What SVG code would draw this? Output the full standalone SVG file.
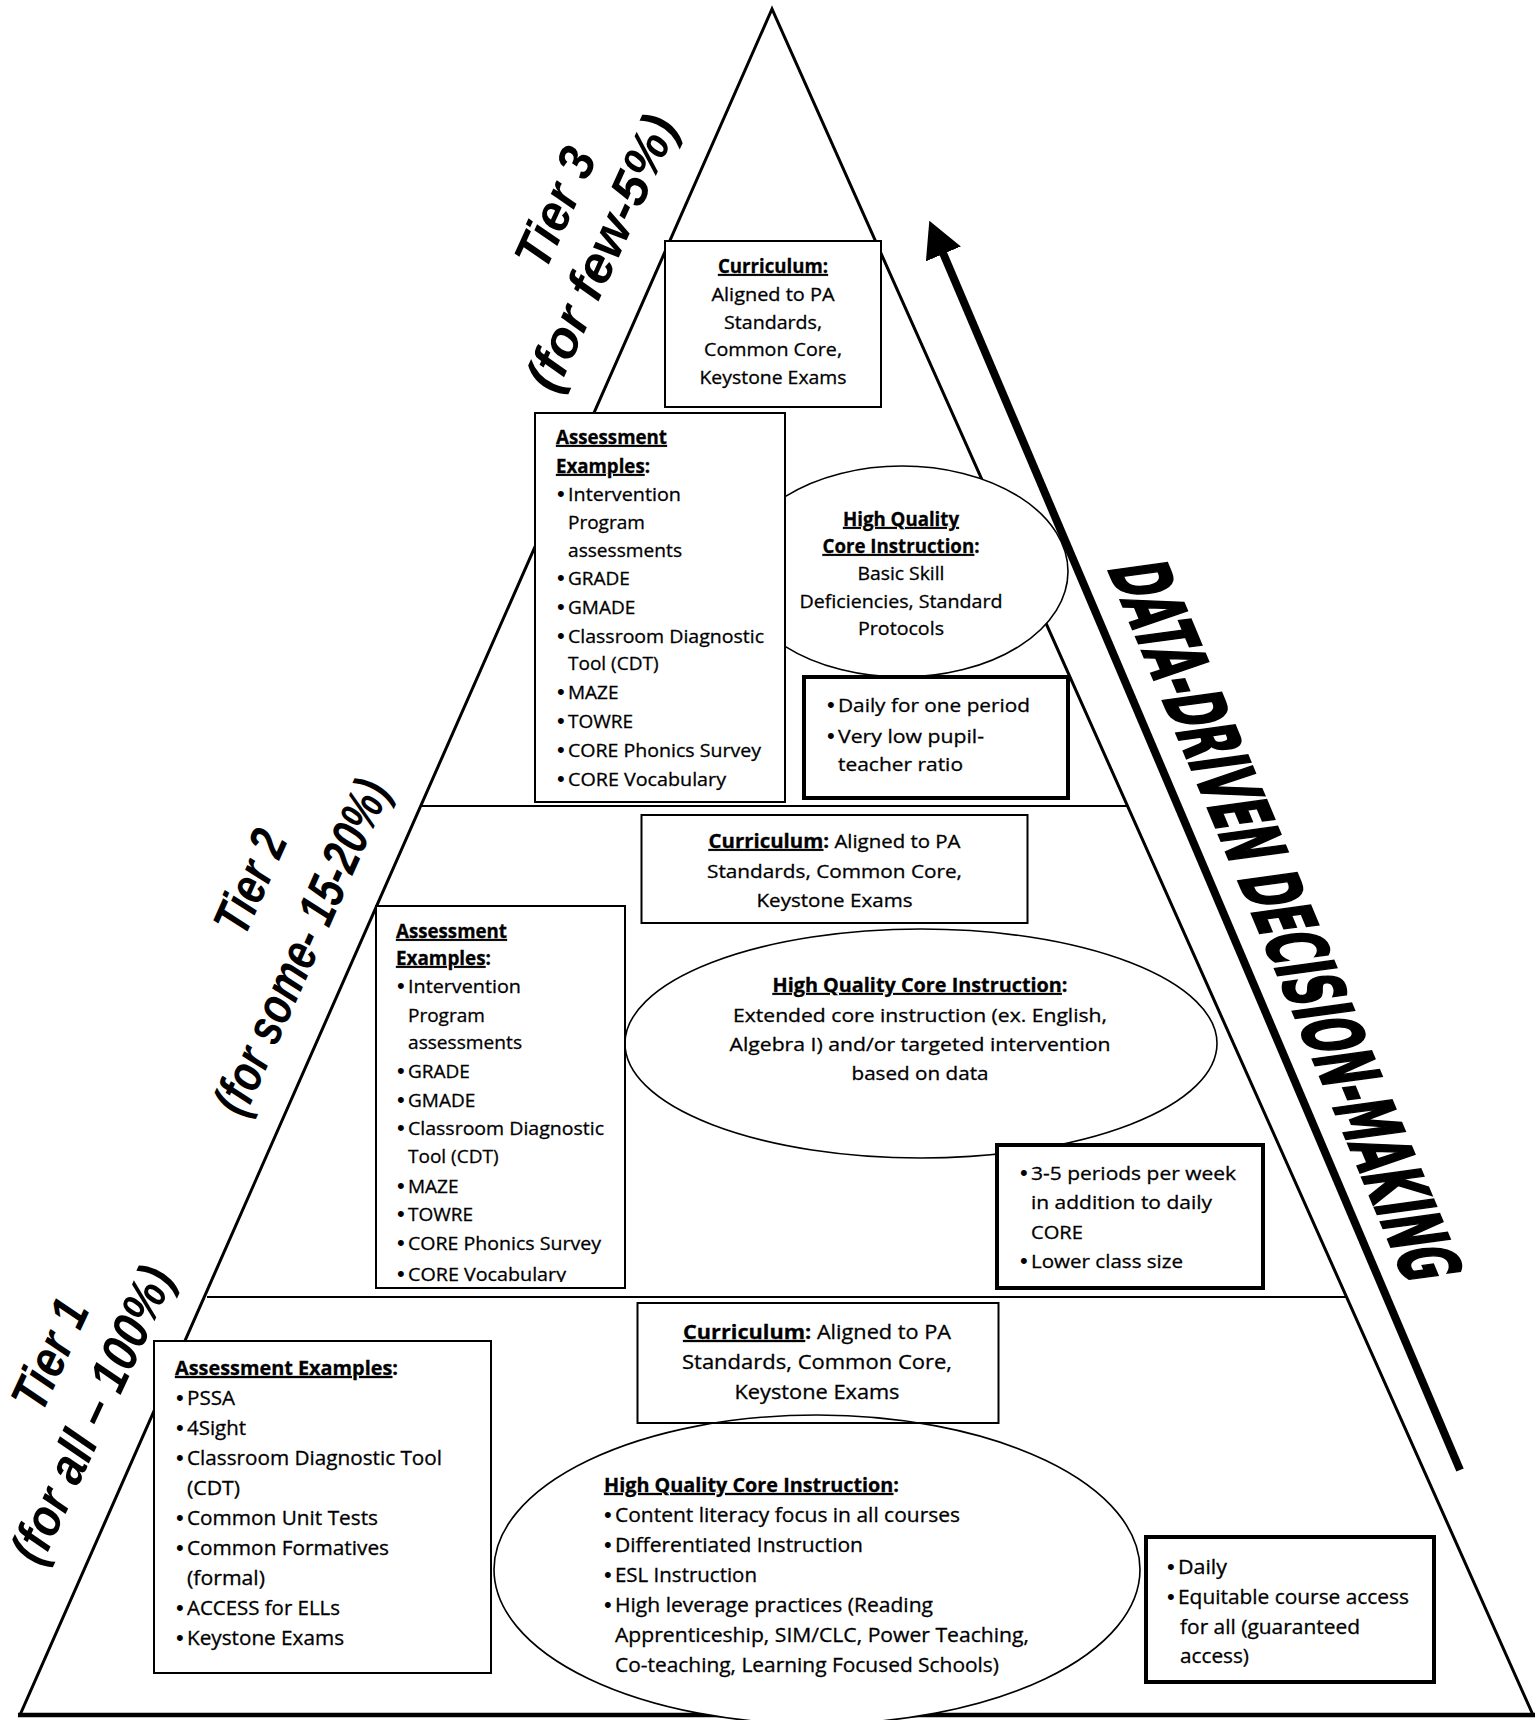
<svg xmlns="http://www.w3.org/2000/svg" width="1539" height="1720" viewBox="0 0 1539 1720">
<style>
.box{fill:#fff;stroke:#000;stroke-width:2}
.nbox{fill:none;stroke:#000;stroke-width:2}
.tbox{fill:#fff;stroke:#000;stroke-width:4}
.ell{fill:#fff;stroke:#000;stroke-width:1.6}
.t{font-family:'Open Sans','Liberation Sans',sans-serif;font-size:19px;fill:#000;stroke:#000;stroke-width:0.3}
.t1{font-family:'Open Sans','Liberation Sans',sans-serif;font-size:20px;fill:#000;stroke:#000;stroke-width:0.3}
.bl{font-family:'Liberation Sans',Arial,sans-serif;font-size:22px;fill:#000}
.b{font-weight:bold}
.u{text-decoration:underline}
.c{text-anchor:middle}
.tier{font-family:'Liberation Sans',Arial,sans-serif;font-size:52px;font-weight:bold;font-style:italic;text-anchor:middle;fill:#000}
.dd{font-family:'DejaVu Sans','Liberation Sans',sans-serif;font-weight:bold;font-size:78px;fill:#000;stroke:#000;stroke-width:2.5}
</style>
<defs>
<marker id="ah" markerUnits="userSpaceOnUse" markerWidth="36" markerHeight="38" viewBox="0 0 36 38" refX="1" refY="19" orient="auto"><path d="M0,0 L36,19 L0,38 z" fill="#000"/></marker>
<clipPath id="clipA2"><rect x="377" y="907" width="247" height="375"/></clipPath>
</defs>
<rect width="1539" height="1720" fill="#fff"/>

<g id="pyramid">
<polygon points="772,9 20,1715 1533,1715" fill="#fff" stroke="#000" stroke-width="3" stroke-linejoin="miter"/>
<line x1="18" y1="1715" x2="1535" y2="1715" stroke="#000" stroke-width="4.5"/>
<line x1="421" y1="806" x2="1127" y2="806" stroke="#000" stroke-width="2"/>
<line x1="207" y1="1297" x2="1346" y2="1297" stroke="#000" stroke-width="2"/>
</g>

<!-- Tier 3 -->
<g id="tier3-instruction">
<ellipse class="ell" cx="902" cy="571.5" rx="166" ry="105.5"/>
<text class="t b c" x="901" y="526" textLength="116" lengthAdjust="spacingAndGlyphs"><tspan class="u">High Quality</tspan></text>
<text class="t b c" x="901" y="553" textLength="157" lengthAdjust="spacingAndGlyphs"><tspan class="u">Core Instruction</tspan>:</text>
<text class="t c" x="901" y="580" textLength="87" lengthAdjust="spacingAndGlyphs">Basic Skill</text>
<text class="t c" x="901" y="608" textLength="203" lengthAdjust="spacingAndGlyphs">Deficiencies, Standard</text>
<text class="t c" x="901" y="635" textLength="86" lengthAdjust="spacingAndGlyphs">Protocols</text>
</g>

<g id="tier3-curriculum">
<rect class="box" x="665" y="241" width="216" height="166"/>
<text class="t b u c" x="773" y="273" textLength="110" lengthAdjust="spacingAndGlyphs">Curriculum:</text>
<text class="t c" x="773" y="301" textLength="123" lengthAdjust="spacingAndGlyphs">Aligned to PA</text>
<text class="t c" x="773" y="329" textLength="98" lengthAdjust="spacingAndGlyphs">Standards,</text>
<text class="t c" x="773" y="356" textLength="138" lengthAdjust="spacingAndGlyphs">Common Core,</text>
<text class="t c" x="773" y="384" textLength="147" lengthAdjust="spacingAndGlyphs">Keystone Exams</text>
</g>

<g id="tier3-assessment">
<rect class="box" x="535" y="413" width="250" height="389"/>
<text class="t b" x="556" y="444" textLength="111" lengthAdjust="spacingAndGlyphs"><tspan class="u">Assessment</tspan></text>
<text class="t b" x="556" y="473" textLength="94" lengthAdjust="spacingAndGlyphs"><tspan class="u">Examples</tspan>:</text>
<text class="bl" x="557" y="501">•</text><text class="t" x="568" y="501" textLength="113" lengthAdjust="spacingAndGlyphs">Intervention</text>
<text class="t" x="568" y="529">Program</text>
<text class="t" x="568" y="557" textLength="114" lengthAdjust="spacingAndGlyphs">assessments</text>
<text class="bl" x="557" y="585">•</text><text class="t" x="568" y="585">GRADE</text>
<text class="bl" x="557" y="614">•</text><text class="t" x="568" y="614">GMADE</text>
<text class="bl" x="557" y="643">•</text><text class="t" x="568" y="643" textLength="196" lengthAdjust="spacingAndGlyphs">Classroom Diagnostic</text>
<text class="t" x="568" y="670">Tool (CDT)</text>
<text class="bl" x="557" y="699">•</text><text class="t" x="568" y="699">MAZE</text>
<text class="bl" x="557" y="728">•</text><text class="t" x="568" y="728">TOWRE</text>
<text class="bl" x="557" y="757">•</text><text class="t" x="568" y="757" textLength="193" lengthAdjust="spacingAndGlyphs">CORE Phonics Survey</text>
<text class="bl" x="557" y="786">•</text><text class="t" x="568" y="786" textLength="158" lengthAdjust="spacingAndGlyphs">CORE Vocabulary</text>
</g>

<g id="tier3-schedule">
<rect class="tbox" x="804" y="677" width="264" height="121"/>
<text class="bl" x="827" y="712">•</text><text class="t" x="838" y="712" textLength="192" lengthAdjust="spacingAndGlyphs">Daily for one period</text>
<text class="bl" x="827" y="743">•</text><text class="t" x="838" y="743" textLength="146" lengthAdjust="spacingAndGlyphs">Very low pupil-</text>
<text class="t" x="838" y="771" textLength="125" lengthAdjust="spacingAndGlyphs">teacher ratio</text>
</g>

<!-- Tier 2 -->
<g id="tier2-instruction">
<ellipse class="ell" cx="921" cy="1043.5" rx="296" ry="114.5"/>
<text class="t b c" x="920" y="992" textLength="295" lengthAdjust="spacingAndGlyphs"><tspan class="u">High Quality Core Instruction</tspan>:</text>
<text class="t c" x="920" y="1022" textLength="374" lengthAdjust="spacingAndGlyphs">Extended core instruction (ex. English,</text>
<text class="t c" x="920" y="1051" textLength="381" lengthAdjust="spacingAndGlyphs">Algebra I) and/or targeted intervention</text>
<text class="t c" x="920" y="1080" textLength="137" lengthAdjust="spacingAndGlyphs">based on data</text>
</g>

<g id="tier2-curriculum">
<rect class="box" x="641.5" y="815" width="386" height="108"/>
<text class="t c" x="834.5" y="848" textLength="252" lengthAdjust="spacingAndGlyphs"><tspan class="b u">Curriculum</tspan><tspan class="b">:</tspan> Aligned to PA</text>
<text class="t c" x="834.5" y="878" textLength="255" lengthAdjust="spacingAndGlyphs">Standards, Common Core,</text>
<text class="t c" x="834.5" y="907" textLength="156" lengthAdjust="spacingAndGlyphs">Keystone Exams</text>
</g>

<g id="tier2-assessment">
<rect class="box" x="376" y="906" width="249" height="382"/>
<g clip-path="url(#clipA2)">
<text class="t b" x="396" y="938" textLength="111" lengthAdjust="spacingAndGlyphs"><tspan class="u">Assessment</tspan></text>
<text class="t b" x="396" y="965" textLength="95" lengthAdjust="spacingAndGlyphs"><tspan class="u">Examples</tspan>:</text>
<text class="bl" x="397" y="993">•</text><text class="t" x="408" y="993" textLength="113" lengthAdjust="spacingAndGlyphs">Intervention</text>
<text class="t" x="408" y="1022">Program</text>
<text class="t" x="408" y="1049" textLength="114" lengthAdjust="spacingAndGlyphs">assessments</text>
<text class="bl" x="397" y="1078">•</text><text class="t" x="408" y="1078">GRADE</text>
<text class="bl" x="397" y="1107">•</text><text class="t" x="408" y="1107">GMADE</text>
<text class="bl" x="397" y="1135">•</text><text class="t" x="408" y="1135" textLength="196" lengthAdjust="spacingAndGlyphs">Classroom Diagnostic</text>
<text class="t" x="408" y="1163">Tool (CDT)</text>
<text class="bl" x="397" y="1193">•</text><text class="t" x="408" y="1193">MAZE</text>
<text class="bl" x="397" y="1221">•</text><text class="t" x="408" y="1221">TOWRE</text>
<text class="bl" x="397" y="1250">•</text><text class="t" x="408" y="1250" textLength="193" lengthAdjust="spacingAndGlyphs">CORE Phonics Survey</text>
<text class="bl" x="397" y="1281">•</text><text class="t" x="408" y="1281" textLength="158" lengthAdjust="spacingAndGlyphs">CORE Vocabulary</text>
</g>
</g>

<g id="tier2-schedule">
<rect class="tbox" x="997" y="1145" width="266" height="143"/>
<text class="bl" x="1020" y="1180">•</text><text class="t" x="1031" y="1180" textLength="205" lengthAdjust="spacingAndGlyphs">3-5 periods per week</text>
<text class="t" x="1031" y="1209" textLength="181" lengthAdjust="spacingAndGlyphs">in addition to daily</text>
<text class="t" x="1031" y="1239" textLength="52" lengthAdjust="spacingAndGlyphs">CORE</text>
<text class="bl" x="1020" y="1268">•</text><text class="t" x="1031" y="1268" textLength="152" lengthAdjust="spacingAndGlyphs">Lower class size</text>
</g>

<!-- Tier 1 -->
<g id="tier1-instruction">
<ellipse class="ell" cx="817" cy="1569.5" rx="323" ry="154.5"/>
<text class="t1 b" x="604" y="1492" textLength="295" lengthAdjust="spacingAndGlyphs"><tspan class="u">High Quality Core Instruction</tspan>:</text>
<text class="bl" x="604" y="1522">•</text><text class="t1" x="615" y="1522" textLength="345" lengthAdjust="spacingAndGlyphs">Content literacy focus in all courses</text>
<text class="bl" x="604" y="1552">•</text><text class="t1" x="615" y="1552" textLength="248" lengthAdjust="spacingAndGlyphs">Differentiated Instruction</text>
<text class="bl" x="604" y="1582">•</text><text class="t1" x="615" y="1582" textLength="142" lengthAdjust="spacingAndGlyphs">ESL Instruction</text>
<text class="bl" x="604" y="1612">•</text><text class="t1" x="615" y="1612" textLength="318" lengthAdjust="spacingAndGlyphs">High leverage practices (Reading</text>
<text class="t1" x="615" y="1642" textLength="414" lengthAdjust="spacingAndGlyphs">Apprenticeship, SIM/CLC, Power Teaching,</text>
<text class="t1" x="615" y="1672" textLength="384" lengthAdjust="spacingAndGlyphs">Co-teaching, Learning Focused Schools)</text>
</g>

<g id="tier1-curriculum">
<rect class="nbox" x="637.5" y="1303" width="361" height="120"/>
<text class="t1 c" x="817" y="1339" textLength="268" lengthAdjust="spacingAndGlyphs"><tspan class="b u">Curriculum</tspan><tspan class="b">:</tspan> Aligned to PA</text>
<text class="t1 c" x="817" y="1369" textLength="270" lengthAdjust="spacingAndGlyphs">Standards, Common Core,</text>
<text class="t1 c" x="817" y="1399" textLength="165" lengthAdjust="spacingAndGlyphs">Keystone Exams</text>
</g>

<g id="tier1-assessment">
<rect class="box" x="154" y="1341" width="337" height="332"/>
<text class="t1 b" x="175" y="1375" textLength="223" lengthAdjust="spacingAndGlyphs"><tspan class="u">Assessment Examples</tspan>:</text>
<text class="bl" x="176" y="1405">•</text><text class="t1" x="187" y="1405" textLength="48" lengthAdjust="spacingAndGlyphs">PSSA</text>
<text class="bl" x="176" y="1435">•</text><text class="t1" x="187" y="1435" textLength="59" lengthAdjust="spacingAndGlyphs">4Sight</text>
<text class="bl" x="176" y="1465">•</text><text class="t1" x="187" y="1465" textLength="255" lengthAdjust="spacingAndGlyphs">Classroom Diagnostic Tool</text>
<text class="t1" x="187" y="1495" textLength="53" lengthAdjust="spacingAndGlyphs">(CDT)</text>
<text class="bl" x="176" y="1525">•</text><text class="t1" x="187" y="1525" textLength="191" lengthAdjust="spacingAndGlyphs">Common Unit Tests</text>
<text class="bl" x="176" y="1555">•</text><text class="t1" x="187" y="1555" textLength="202" lengthAdjust="spacingAndGlyphs">Common Formatives</text>
<text class="t1" x="187" y="1585" textLength="78" lengthAdjust="spacingAndGlyphs">(formal)</text>
<text class="bl" x="176" y="1615">•</text><text class="t1" x="187" y="1615" textLength="153" lengthAdjust="spacingAndGlyphs">ACCESS for ELLs</text>
<text class="bl" x="176" y="1645">•</text><text class="t1" x="187" y="1645" textLength="157" lengthAdjust="spacingAndGlyphs">Keystone Exams</text>
</g>

<g id="tier1-schedule">
<rect class="tbox" x="1146" y="1537" width="288" height="145"/>
<text class="bl" x="1167" y="1574">•</text><text class="t1" x="1178" y="1574" textLength="49" lengthAdjust="spacingAndGlyphs">Daily</text>
<text class="bl" x="1167" y="1604">•</text><text class="t1" x="1178" y="1604" textLength="231" lengthAdjust="spacingAndGlyphs">Equitable course access</text>
<text class="t1" x="1180" y="1634" textLength="180" lengthAdjust="spacingAndGlyphs">for all (guaranteed</text>
<text class="t1" x="1180" y="1663" textLength="69" lengthAdjust="spacingAndGlyphs">access)</text>
</g>

<g id="tier-labels">
<text class="tier" transform="translate(571.5,215) rotate(-65.5)" textLength="126" lengthAdjust="spacingAndGlyphs">Tier 3</text>
<text class="tier" transform="translate(617.5,260) rotate(-65.5)" textLength="296" lengthAdjust="spacingAndGlyphs">(for few-5%)</text>
<text class="tier" transform="translate(266.5,889) rotate(-66)" textLength="108" lengthAdjust="spacingAndGlyphs">Tier 2</text>
<text class="tier" transform="translate(317.5,954) rotate(-66)" textLength="360" lengthAdjust="spacingAndGlyphs">(for some- 15-20%)</text>
<text class="tier" transform="translate(66,1362) rotate(-65.2)" textLength="116" lengthAdjust="spacingAndGlyphs">Tier 1</text>
<text class="tier" transform="translate(108,1422) rotate(-65.2)" textLength="320" lengthAdjust="spacingAndGlyphs">(for all – 100%)</text>
</g>

<g id="connectors">
<line x1="1460" y1="1470" x2="943" y2="253" stroke="#000" stroke-width="8" marker-end="url(#ah)"/>
</g>

<g id="data-driven-label">
<text class="dd" transform="translate(1107,567) rotate(67.3) skewX(-15)" textLength="776" lengthAdjust="spacingAndGlyphs">DATA-DRIVEN DECISION-MAKING</text>
</g>
</svg>
